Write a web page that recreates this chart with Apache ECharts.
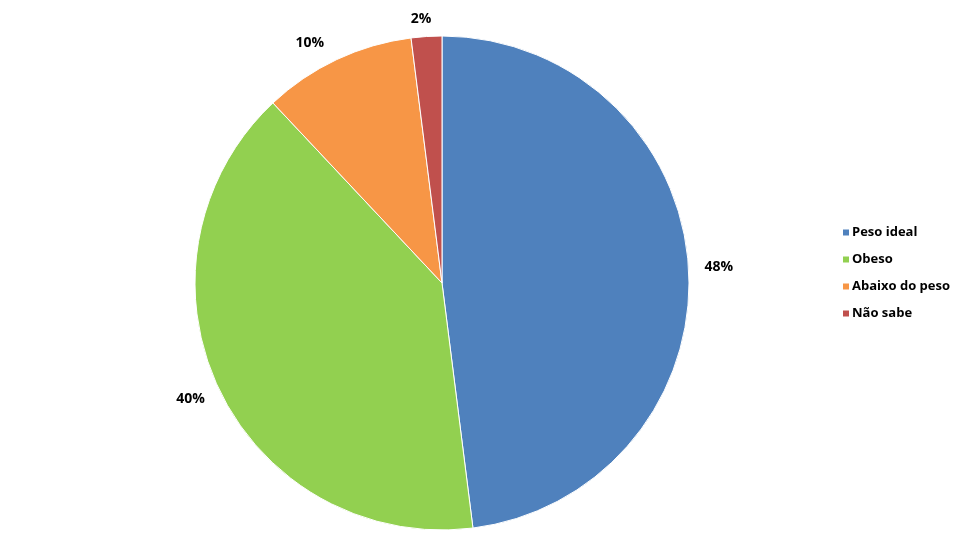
<!DOCTYPE html>
<html><head><meta charset="utf-8">
<script src="https://cdn.jsdelivr.net/npm/echarts@6/dist/echarts.min.js"></script>
<style>html,body{margin:0;padding:0;background:#fff}#c{width:969px;height:535px}</style>
</head><body><div id="c"></div>
<script>
const categories = ['Peso ideal', 'Obeso', 'Abaixo do peso', 'Não sabe'];
const values = [48, 40, 10, 2];
const colors = ['#4F81BD', '#92D050', '#F79646', '#C0504D'];
const labelGap = [11, 26, 18, 18];
const labelPad = [[0, 0, 0, 0], [0, -15, 0, 0], [0, 0, 0, 0], [0, -11, 0, 0]];

const chart = echarts.init(document.getElementById('c'), null, {renderer: 'canvas'});
chart.setOption({
  animation: false,
  backgroundColor: '#ffffff',
  color: colors,
  legend: {
    orient: 'vertical',
    left: 836,
    top: 221,
    itemWidth: 8,
    itemHeight: 8,
    itemGap: 14,
    icon: 'rect',
    textStyle: {fontFamily: 'Open Sans', fontWeight: 'bold', fontSize: 13, color: '#000', padding: [0, 0, 0, -3]},
    data: categories
  },
  series: [{
    type: 'pie',
    center: [442, 283],
    radius: 247,
    startAngle: 90,
    clockwise: true,
    avoidLabelOverlap: false,
    itemStyle: {borderColor: '#ffffff', borderWidth: 1},
    label: {
      show: true,
      position: 'outside',
      formatter: '{c}%',
      fontFamily: 'Open Sans',
      fontWeight: 'bold',
      fontSize: 14,
      color: '#000'
    },
    labelLine: {show: false, length: 12, length2: 0},
    emphasis: {disabled: true},
    data: categories.map((n, i) => ({
      name: n, value: values[i],
      label: {padding: labelPad[i]},
      labelLine: {show: false, length: labelGap[i], length2: 0}
    }))
  }]
});
</script></body></html>
